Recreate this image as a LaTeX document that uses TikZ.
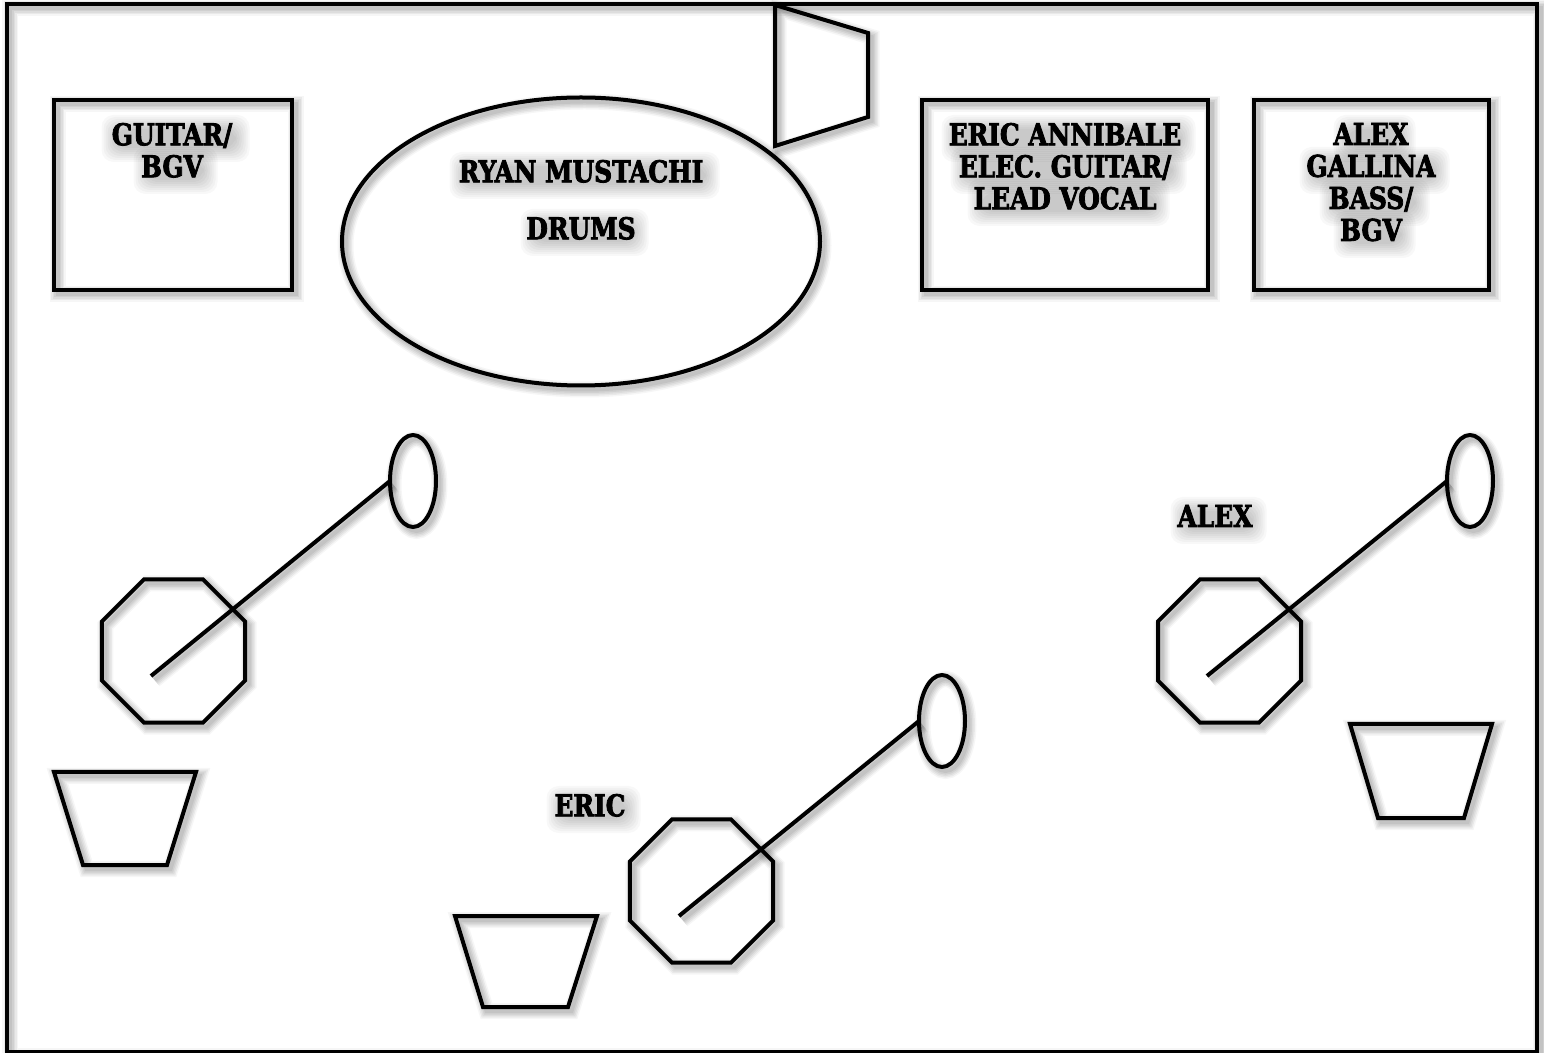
\documentclass[tikz,border=0pt]{standalone}
\usepackage{fontspec}
\usetikzlibrary{shapes.geometric}
\newfontfamily\stagefont{DejaVu Serif Condensed}[BoldFont=* Bold,BoldFeatures={FakeStretch=.92,FakeBold=2.6}]
\tikzset{
  softshadow/.style={
    preaction={draw=black,draw opacity=.035,line width=8pt,transform canvas={shift={(3.5,4)}}},
    preaction={draw=black,draw opacity=.05,line width=6.5pt,transform canvas={shift={(3.5,4)}}},
    preaction={draw=black,draw opacity=.05,line width=5pt,transform canvas={shift={(3.5,4)}}},
    preaction={draw=black,draw opacity=.06,line width=3.5pt,transform canvas={shift={(3.5,4)}}},
    preaction={draw=black,draw opacity=.06,line width=2pt,transform canvas={shift={(3.5,4)}}}},
  stageline/.style={draw=black,line width=2pt,line join=miter,softshadow},
  roombox/.style={stageline,rectangle,inner sep=0pt,outer sep=0pt},
  mic/.style={stageline,ellipse,inner sep=0pt,outer sep=0pt,minimum width=23pt,minimum height=46pt},
  octa/.style={stageline,regular polygon,regular polygon sides=8,inner sep=0pt,outer sep=0pt,minimum size=77.4pt},
  stagetext/.style={anchor=north,inner sep=0pt,outer sep=0pt,align=center,text=black,
    font=\stagefont\bfseries\fontsize{15}{16}\selectfont},
  softbar/.style={fill=black,fill opacity=.028,rounded corners=6pt},
}
% soft shadow patch behind one line of text: centre x, baseline y, width (pixels)
\newcommand\textglow[3]{%
  \foreach \g in {12,10,8,6,4,2,0,-2}{%
    \fill[softbar] ({#1+3.5-#3/2-\g},{#2-17-\g}) rectangle ({#1+3.5+#3/2+\g},{#2+6+\g});
  }}
\begin{document}
\begin{tikzpicture}[x=0.5pt,y=-0.5pt]
\useasboundingbox (0,0) rectangle (1544,1053);
\fill[white] (0,0) rectangle (1544,1053);
% outer frame
\node[roombox,minimum width=765.25pt,minimum height=524pt] (frame) at (771.75,528) {};
% boxes
\node[roombox,minimum width=119pt,minimum height=95pt] (gbox) at (173,195) {};
\node[roombox,minimum width=143pt,minimum height=95pt] (ebox) at (1065,195) {};
\node[roombox,minimum width=117.5pt,minimum height=95pt] (abox) at (1371.5,195) {};
\node[stageline,ellipse,inner sep=0pt,outer sep=0pt,minimum width=239pt,minimum height=144pt] (drums) at (581,241.5) {};
% monitor wedge at rear
\coordinate (w1) at (775,5); \coordinate (w2) at (868,33); \coordinate (w3) at (868,117); \coordinate (w4) at (775,146);
\draw[stageline] (w1) -- (w2) -- (w3) -- (w4) -- cycle;
% front wedges
\coordinate (a1) at (54,772); \coordinate (a2) at (196,772); \coordinate (a3) at (167,865); \coordinate (a4) at (83,865);
\draw[stageline] (a1) -- (a2) -- (a3) -- (a4) -- cycle;
\coordinate (b1) at (1350,724); \coordinate (b2) at (1492,724); \coordinate (b3) at (1464,818); \coordinate (b4) at (1378,818);
\draw[stageline] (b1) -- (b2) -- (b3) -- (b4) -- cycle;
\coordinate (c1) at (455,916); \coordinate (c2) at (597,916); \coordinate (c3) at (568,1007); \coordinate (c4) at (483,1007);
\draw[stageline] (c1) -- (c2) -- (c3) -- (c4) -- cycle;
% mic stands
\node[octa] (o1) at (173.5,651) {};
\node[octa] (o2) at (1229.5,651) {};
\node[octa] (o3) at (701.5,891) {};
\node[mic] (m1) at (413,481) {};
\node[mic] (m2) at (1470,481) {};
\node[mic] (m3) at (942,721) {};
\coordinate (s1) at (151,676);
\coordinate (s2) at (1207,676);
\coordinate (s3) at (679,916);
\draw[stageline] (s1) -- (m1.west);
\draw[stageline] (s2) -- (m2.west);
\draw[stageline] (s3) -- (m3.west);
% soft shadows of the texts
\textglow{172}{144}{124}\textglow{172}{176}{60}
\textglow{1065}{144}{230}\textglow{1065}{176}{212}\textglow{1065}{208}{178}
\textglow{1371}{144}{58}\textglow{1371}{176}{126}\textglow{1371}{208}{86}\textglow{1371}{240}{58}
\textglow{581}{181}{246}\textglow{581}{238}{104}
\textglow{1215}{526}{72}\textglow{590}{815}{70}
% text
\node[stagetext] (tg) at (172,123) {GUITAR/\\BGV};
\node[stagetext] (te) at (1065,123) {ERIC ANNIBALE\\ELEC. GUITAR/\\LEAD VOCAL};
\node[stagetext] (ta) at (1371,123) {ALEX\\GALLINA\\BASS/\\BGV};
\node[stagetext] (tr) at (581,160) {RYAN MUSTACHI};
\node[stagetext] (td) at (581,217) {DRUMS};
\node[stagetext] (tal) at (1215,505) {ALEX};
\node[stagetext] (ter) at (590,794) {ERIC};
\end{tikzpicture}
\end{document}
